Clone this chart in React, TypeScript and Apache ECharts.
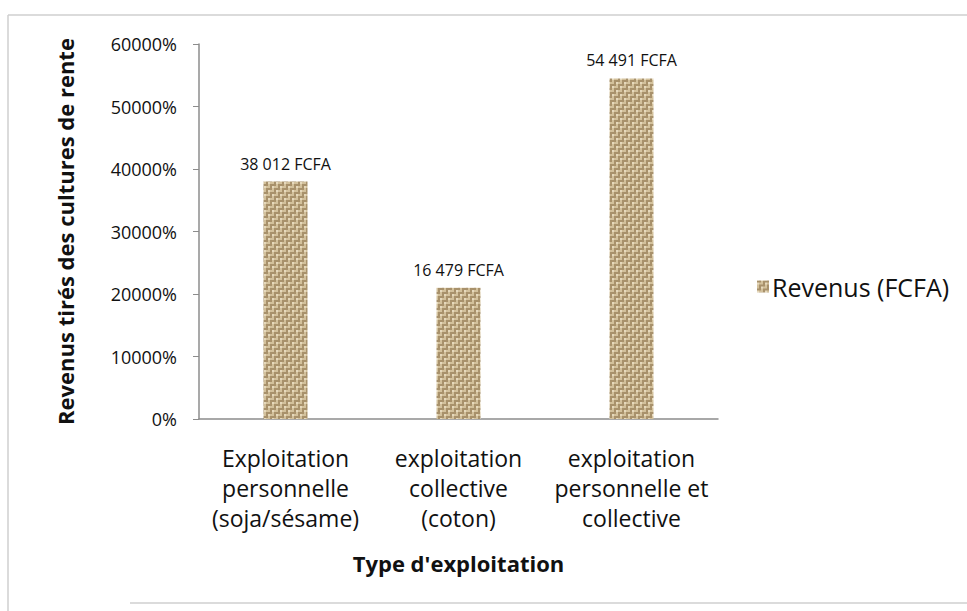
import React, { useEffect, useRef } from "react";
import * as echarts from "echarts";

const categories = [
  "Exploitation\npersonnelle\n(soja/sésame)",
  "exploitation\ncollective\n(coton)",
  "exploitation\npersonnelle et\ncollective",
];
const revenus = [38000, 21000, 54500];
const labelTexts = ["38 012 FCFA", "16 479 FCFA", "54 491 FCFA"];
const seriesName = "Revenus (FCFA)";
const yAxisTitle = "Revenus tirés des cultures de rente";
const xAxisTitle = "Type d'exploitation";

function makePattern(): HTMLCanvasElement {
  const c = document.createElement("canvas");
  c.width = 8;
  c.height = 8;
  const ctx = c.getContext("2d")!;
  ctx.fillStyle = "#d3c19c";
  ctx.fillRect(0, 0, 8, 8);
  ctx.fillStyle = "#a8916b";
  ctx.fillRect(0, 0, 4, 2);
  ctx.fillRect(4, 4, 4, 2);
  ctx.fillRect(6, 0, 2, 4);
  ctx.fillRect(2, 4, 2, 4);
  ctx.fillStyle = "#e6d9bd";
  ctx.fillRect(0, 2, 2, 2);
  ctx.fillRect(4, 6, 2, 2);
  return c;
}

export default function App() {
  const ref = useRef<HTMLDivElement>(null);
  useEffect(() => {
    if (!ref.current) return;
    const chart = echarts.init(ref.current, null, { renderer: "svg" });
    const font = "'Open Sans', 'Noto Sans', sans-serif";
    const frame = { stroke: "#cfcfcf", lineWidth: 1.5 };
    chart.setOption({
      animation: false,
      backgroundColor: "#ffffff",
      textStyle: { fontFamily: font },
      graphic: [
        { type: "line", shape: { x1: 8, y1: 15, x2: 967, y2: 15 }, style: frame, silent: true },
        { type: "line", shape: { x1: 8, y1: 15, x2: 8, y2: 611 }, style: frame, silent: true },
        { type: "line", shape: { x1: 130, y1: 603, x2: 967, y2: 603 }, style: frame, silent: true },
      ],
      grid: { left: 199, right: 249, top: 44, height: 375 },
      legend: {
        left: 752,
        top: 269,
        itemWidth: 12,
        itemHeight: 12,
        itemGap: 4,
        icon: "rect",
        textStyle: { fontSize: 25, color: "#111", fontFamily: font, padding: [0, 0, 0, -2] },
        data: [seriesName],
      },
      xAxis: {
        type: "category",
        data: categories,
        axisLine: { lineStyle: { color: "#8c8c8c", width: 1.5 } },
        axisTick: { show: false },
        axisLabel: {
          fontSize: 23,
          color: "#111",
          lineHeight: 30,
          margin: 24,
          fontFamily: font,
          interval: 0,
        },
        name: xAxisTitle,
        nameLocation: "middle",
        nameGap: 133,
        nameTextStyle: { fontSize: 22, fontWeight: "bold", color: "#111", fontFamily: font },
      },
      yAxis: {
        type: "value",
        min: 0,
        max: 60000,
        interval: 10000,
        axisLine: { show: true, lineStyle: { color: "#8c8c8c", width: 1.5 } },
        axisTick: { show: true, inside: false, length: 6, lineStyle: { color: "#8c8c8c" } },
        splitLine: { show: false },
        axisLabel: {
          formatter: (v: number) => `${v}%`,
          fontSize: 18,
          color: "#111",
          margin: 22,
          fontFamily: font,
        },
        name: yAxisTitle,
        nameLocation: "middle",
        nameRotate: 90,
        nameGap: 123,
        nameTextStyle: { fontSize: 22, fontWeight: "bold", color: "#111", fontFamily: font },
      },
      series: [
        {
          name: seriesName,
          type: "bar",
          barWidth: 44,
          data: revenus,
          itemStyle: {
            color: { image: makePattern(), repeat: "repeat" },
          },
          label: {
            show: true,
            position: "top",
            distance: 10,
            fontSize: 16,
            color: "#111",
            fontFamily: font,
            formatter: (p: any) => labelTexts[p.dataIndex],
          },
        },
      ],
    });
    return () => chart.dispose();
  }, []);
  return (
    <div
      ref={ref}
      style={{ position: "fixed", left: 0, top: 0, width: 967, height: 611 }}
    />
  );
}
